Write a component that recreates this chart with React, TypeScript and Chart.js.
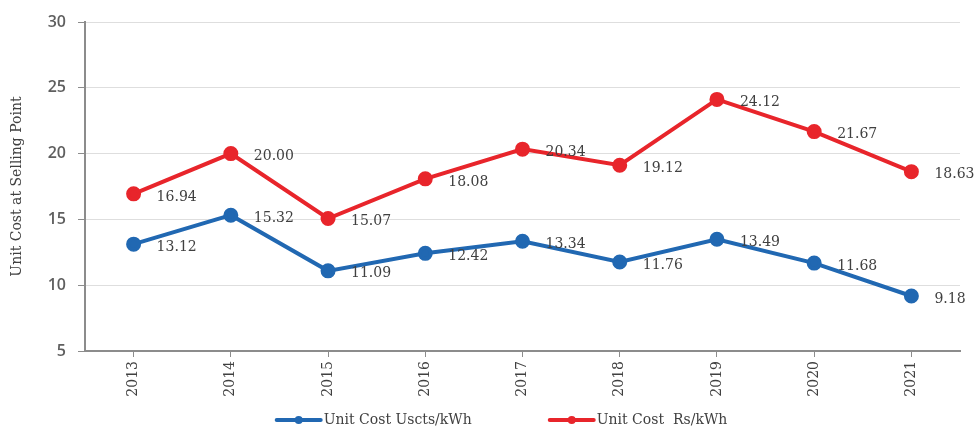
import React, { useEffect, useRef } from "react";
import { Chart, registerables } from "chart.js";

Chart.register(...registerables);

const years = ["2013", "2014", "2015", "2016", "2017", "2018", "2019", "2020", "2021"];
const usctsPerKWh = [13.12, 15.32, 11.09, 12.42, 13.34, 11.76, 13.49, 11.68, 9.18];
const rsPerKWh = [16.94, 20.0, 15.07, 18.08, 20.34, 19.12, 24.12, 21.67, 18.63];
const seriesNames = ["Unit Cost Uscts/kWh", "Unit Cost  Rs/kWh"];
const axisTitle = "Unit Cost at Selling Point";

const BLUE = "#2168b2";
const RED = "#e8252b";
const SERIF = "'DejaVu Serif', serif";
const TEXT = "#404040";

// value labels drawn to the right of each point
const valueLabels = {
  id: "valueLabels",
  afterDatasetsDraw(chart: any) {
    const ctx = chart.ctx;
    ctx.save();
    ctx.font = `14px ${SERIF}`;
    ctx.fillStyle = TEXT;
    ctx.textAlign = "left";
    ctx.textBaseline = "middle";
    chart.data.datasets.forEach((ds: any, i: number) => {
      const meta = chart.getDatasetMeta(i);
      meta.data.forEach((pt: any, j: number) => {
        ctx.fillText(Number(ds.data[j]).toFixed(2), pt.x + 23, pt.y + 3);
      });
    });
    ctx.restore();
  },
};

// bottom legend: line with a round marker followed by the series name
const lineLegend = {
  id: "lineLegend",
  afterDraw(chart: any) {
    const ctx = chart.ctx;
    const y = 420;
    const lineLen = 44;
    const gapText = 3;
    const gapItems = 78;
    ctx.save();
    ctx.font = `14px ${SERIF}`;
    const items = chart.data.datasets.map((ds: any) => ({
      label: ds.label,
      color: ds.borderColor,
      w: ctx.measureText(ds.label).width,
    }));
    const total =
      items.reduce((s: number, it: any) => s + lineLen + gapText + it.w, 0) +
      gapItems * (items.length - 1);
    let x = 502 - total / 2;
    items.forEach((it: any) => {
      ctx.strokeStyle = it.color;
      ctx.lineWidth = 4;
      ctx.lineCap = "round";
      ctx.beginPath();
      ctx.moveTo(x, y);
      ctx.lineTo(x + lineLen, y);
      ctx.stroke();
      ctx.fillStyle = it.color;
      ctx.beginPath();
      ctx.arc(x + lineLen / 2, y, 4, 0, Math.PI * 2);
      ctx.fill();
      ctx.fillStyle = TEXT;
      ctx.textAlign = "left";
      ctx.textBaseline = "middle";
      ctx.fillText(it.label, x + lineLen + gapText, y);
      x += lineLen + gapText + it.w + gapItems;
    });
    ctx.restore();
  },
};

export default function App() {
  const ref = useRef<HTMLCanvasElement>(null);

  useEffect(() => {
    if (!ref.current) return;
    const chart = new Chart(ref.current, {
      type: "line",
      data: {
        labels: years,
        datasets: [
          {
            label: seriesNames[0],
            data: usctsPerKWh,
            borderColor: BLUE,
            backgroundColor: BLUE,
            borderWidth: 4,
            pointRadius: 5.5,
            pointHoverRadius: 5.5,
            tension: 0,
          },
          {
            label: seriesNames[1],
            data: rsPerKWh,
            borderColor: RED,
            backgroundColor: RED,
            borderWidth: 4,
            pointRadius: 5.5,
            pointHoverRadius: 5.5,
            tension: 0,
          },
        ],
      },
      options: {
        responsive: false,
        animation: false,
        layout: { padding: { left: 0, right: 17, top: 22, bottom: 0 } },
        plugins: {
          legend: { display: false },
          tooltip: { enabled: false },
        },
        scales: {
          x: {
            offset: true,
            grid: {
              display: true,
              drawOnChartArea: false,
              drawTicks: true,
              tickLength: 6,
              tickColor: "#8c8c8c",
              offset: false,
            },
            border: { color: "#8c8c8c", width: 2 },
            ticks: {
              minRotation: 90,
              maxRotation: 90,
              padding: 4,
              color: TEXT,
              font: { family: SERIF, size: 14 },
            },
            afterFit(scale: any) {
              scale.height = 77;
            },
          },
          y: {
            min: 5,
            max: 30,
            ticks: {
              stepSize: 5,
              padding: 12,
              color: "#5f5f5f",
              font: { family: "'Open Sans', sans-serif", size: 16, weight: "600" },
            },
            grid: {
              color: "#dedede",
              lineWidth: 1,
              tickLength: 7,
              tickColor: "#8c8c8c",
            },
            border: { color: "#8c8c8c", width: 2 },
            title: {
              display: true,
              text: axisTitle,
              color: TEXT,
              font: { family: SERIF, size: 14 },
              padding: { top: 9, bottom: 0 },
            },
            afterFit(scale: any) {
              scale.width = 85;
            },
          },
        },
      },
      plugins: [valueLabels, lineLegend],
    });
    return () => chart.destroy();
  }, []);

  return (
    <div style={{ position: "absolute", left: 0, top: 0, width: 977, height: 428, background: "#fff" }}>
      <canvas ref={ref} width={977} height={428} />
    </div>
  );
}
